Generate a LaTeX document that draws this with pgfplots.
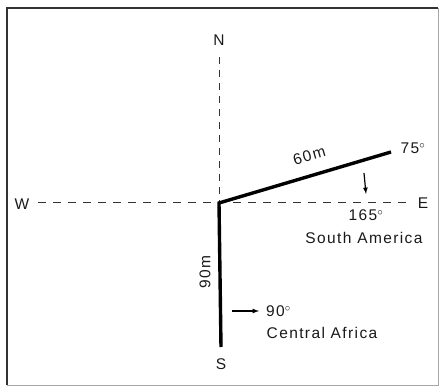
\documentclass[border=0pt]{standalone}
\usepackage{pgfplots}
\pgfplotsset{compat=1.18}
\usepackage{fontspec}
\setmainfont{Liberation Sans}[LetterSpace=9]
\tikzset{lbl/.style={font=\fontsize{15.5}{18}\selectfont, text=black!90, inner sep=1pt}}
\begin{document}
\begin{tikzpicture}
\begin{axis}[
  scale only axis, width=440pt, height=387pt,
  xmin=0, xmax=440, ymin=0, ymax=387, y dir=reverse,
  axis lines=none, clip=false,
]
% full canvas (invisible) so the picture spans the whole area
\addplot[draw=none, forget plot] coordinates {(0,0) (440,387)};
% frame
\addplot[draw=black!80, line width=1.6pt] coordinates {(7,385) (7,8) (438,8)};
\addplot[draw=black!35, line width=0.8pt] coordinates {(438,8) (438,385) (7,385)};
% compass dashed lines
\addplot[draw=black!80, dash pattern=on 7pt off 6pt, line width=0.7pt] coordinates {(219,57) (219,202)};
\addplot[draw=black!80, dash pattern=on 8pt off 7pt, line width=0.7pt] coordinates {(38,202) (412,202)};
% antenna elements
\addplot[draw=black, line width=3.4pt, line join=miter] coordinates {(391,152) (219,203) (221,347)};
% arrows
\addplot[draw=black, line width=1.2pt, -latex] coordinates {(364,173) (366,194)};
\addplot[draw=black, line width=1.2pt, -latex] coordinates {(232,311) (259,311)};
% labels
\node[lbl] at (axis cs:219,40) {N};
\node[lbl] at (axis cs:221,364) {S};
\node[lbl] at (axis cs:22,204) {W};
\node[lbl] at (axis cs:423,203) {E};
\node[lbl, rotate=16, anchor=south] at (axis cs:311,162) {60m};
\node[lbl, rotate=90] at (axis cs:205,272) {90m};
\node[lbl] at (axis cs:413,148) {75$^\circ$};
\node[lbl] at (axis cs:366,215) {165$^\circ$};
\node[lbl] at (axis cs:364,238) {South America};
\node[lbl, anchor=west] at (axis cs:265,311) {90$^\circ$};
\node[lbl] at (axis cs:322,333) {Central Africa};
\end{axis}
\end{tikzpicture}
\end{document}
